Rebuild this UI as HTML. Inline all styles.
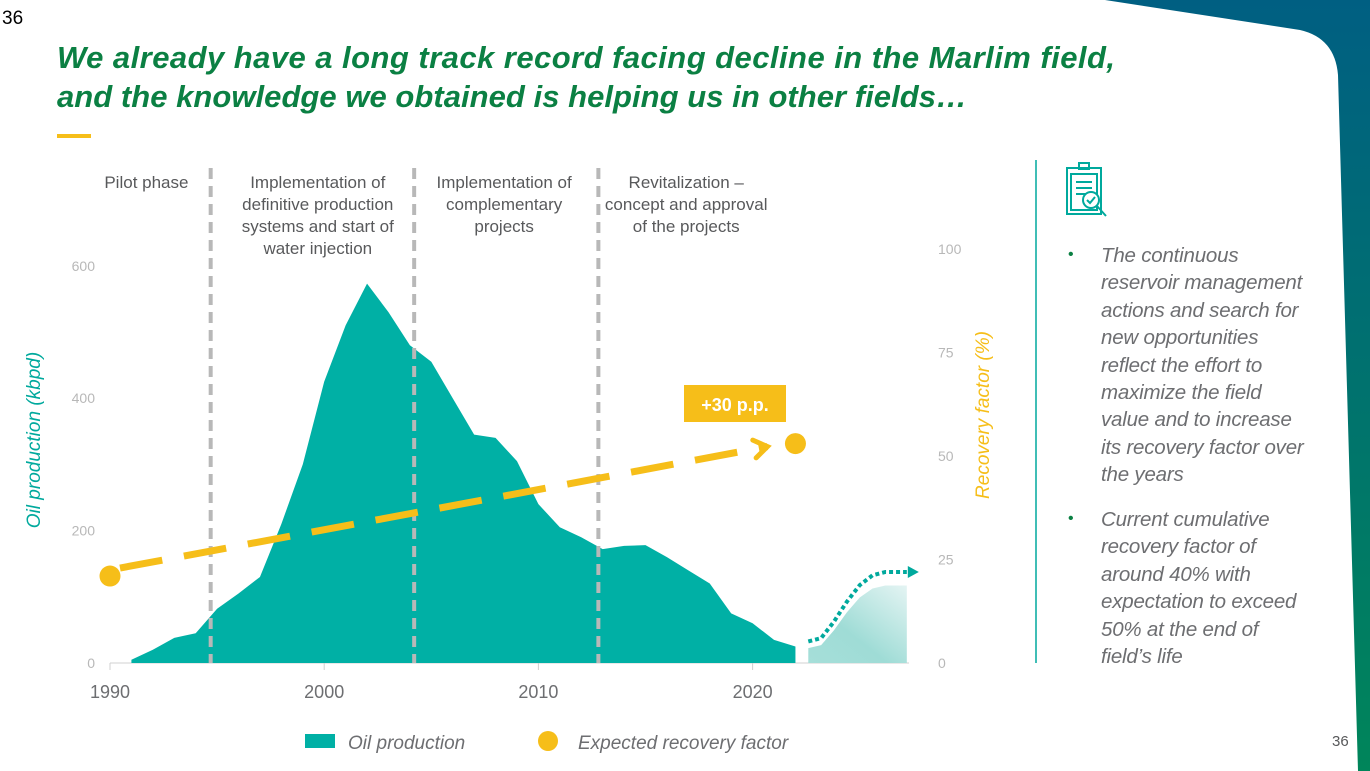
<!DOCTYPE html>
<html><head><meta charset="utf-8">
<style>
html,body{margin:0;padding:0;background:#fff;}
body{width:1370px;height:771px;position:relative;overflow:hidden;font-family:"Liberation Sans",sans-serif;}
svg{position:absolute;left:0;top:0;}
.bul{position:absolute;left:1101px;font-style:italic;color:#6d6e71;font-size:20.5px;line-height:27.4px;white-space:nowrap;letter-spacing:-0.2px;}
.dot{position:absolute;left:1068px;color:#0b8043;font-size:16px;}
</style></head><body>
<svg id="chart" width="1370" height="771">
<defs>
<linearGradient id="corner" x1="0" y1="0" x2="0" y2="1"><stop offset="0" stop-color="#005f82"/><stop offset="1" stop-color="#00855a"/></linearGradient>
<linearGradient id="fc" x1="1" y1="0" x2="0" y2="1"><stop offset="0" stop-color="#e4f4f3"/><stop offset="0.6" stop-color="#9fdcd6"/><stop offset="1" stop-color="#a6dfd9"/></linearGradient>
</defs>
<path d="M1105,0 L1370,0 L1370,771 L1358,771 L1338,75 Q1335,38 1300,30 Z" fill="url(#corner)"/>
<text x="2" y="24" font-size="19" fill="#000">36</text>
<text x="57" y="68" font-size="31" font-weight="bold" font-style="italic" fill="#0b8043" textLength="1058">We already have a long track record facing decline in the Marlim field,</text>
<text x="57" y="107" font-size="31" font-weight="bold" font-style="italic" fill="#0b8043" textLength="910">and the knowledge we obtained is helping us in other fields…</text>
<rect x="57" y="134" width="34" height="4" fill="#f6be19"/>
<g id="plot"></g>
<line x1="1036" y1="160" x2="1036" y2="663" stroke="#00a99d" stroke-width="1.5"/>
<g fill="none" stroke="#00a99d" stroke-width="2">
<rect x="1067" y="168" width="34" height="46"/><rect x="1071" y="174" width="26" height="36"/>
<rect x="1079" y="163" width="10" height="6"/>
<line x1="1076" y1="182" x2="1092" y2="182"/><line x1="1076" y1="188" x2="1092" y2="188"/><line x1="1076" y1="194" x2="1086" y2="194"/>
<circle cx="1091" cy="200" r="8" fill="#fff"/><path d="M1087,200 l3,3 l5,-6"/><line x1="1097" y1="206" x2="1106" y2="216"/>
</g>
<text x="1332" y="746" font-size="15" fill="#58595b">36</text>
<rect x="305" y="734" width="30" height="14" fill="#00b0a5"/>
<text x="348" y="749" font-size="19" font-style="italic" fill="#6d6e71">Oil production</text>
<circle cx="548" cy="741" r="10" fill="#f6be19"/>
<text x="578" y="749" font-size="19" font-style="italic" fill="#6d6e71">Expected recovery factor</text>
</svg>
<div class="dot" style="top:246px">•</div>
<div class="bul" style="top:242px">The continuous<br>reservoir management<br>actions and search for<br>new opportunities<br>reflect the effort to<br>maximize the field<br>value and to increase<br>its recovery factor over<br>the years</div>
<div class="dot" style="top:510px">•</div>
<div class="bul" style="top:506px">Current cumulative<br>recovery factor of<br>around 40% with<br>expectation to exceed<br>50% at the end of<br>field’s life</div>
<script>
const years=[1991,1992,1993,1994,1995,1996,1997,1998,1999,2000,2001,2002,2003,2004,2005,2006,2007,2008,2009,2010,2011,2012,2013,2014,2015,2016,2017,2018,2019,2020,2021,2022];
const production=[5,20,38,45,82,105,130,210,300,425,510,573,530,480,455,400,345,340,305,240,205,190,172,177,178,160,140,120,75,60,35,25];
const forecastYears=[2022.6,2023.2,2023.8,2024.4,2025,2025.6,2026.2,2027.2];
const forecast=[25,30,55,85,110,125,130,130];
const recoveryYears=[1990,2022];
const recovery=[21,53];
const leftTicks=[0,200,400,600];
const rightTicks=[0,25,50,75,100];
const xTicks=[1990,2000,2010,2020];
const phaseLines=[1994.7,2004.2,2012.8];
const phaseLabels=[["Pilot phase"],["Implementation of","definitive production","systems and start of","water injection"],["Implementation of","complementary","projects"],["Revitalization –","concept and approval","of the projects"]];
const phaseLabelX=[1991.7,1999.7,2008.4,2016.9];

const NS="http://www.w3.org/2000/svg";
const g=document.getElementById('plot');
const X=y=>110+(y-1990)*21.42;
const YL=v=>663-v*0.662;
const YR=v=>663-v*4.14;
function el(t,a){const e=document.createElementNS(NS,t);for(const k in a)e.setAttribute(k,a[k]);g.appendChild(e);return e;}
let e=el('line',{x1:X(1990),y1:663,x2:X(2027.3),y2:663,stroke:'#d0d0d0','stroke-width':1});


xTicks.forEach(t=>{
 let l=el('line',{x1:X(t),y1:663,x2:X(t),y2:670,stroke:'#d0d0d0'});
 
 
 let tx=el('text',{x:X(t),y:698,'font-size':18,fill:'#6d6e71','text-anchor':'middle'});tx.textContent=t;
 
 
});
leftTicks.forEach(t=>{
 let tx=el('text',{x:95,y:YL(t)+5,'font-size':14,fill:'#b8b8b8','text-anchor':'end'});tx.textContent=t;
 
 
});
rightTicks.forEach(t=>{
 let tx=el('text',{x:938,y:YR(t)+5,'font-size':14,fill:'#b8b8b8'});tx.textContent=t;
 
 
});
let yt=el('text',{x:0,y:0,'font-size':19,'font-style':'italic',fill:'#00a99d','text-anchor':'middle',transform:'translate(40,440) rotate(-90)'});yt.textContent='Oil production (kbpd)';


let yr=el('text',{x:0,y:0,'font-size':19,'font-style':'italic',fill:'#f6be19','text-anchor':'middle',transform:'translate(989,415) rotate(-90)'});yr.textContent='Recovery factor (%)';


let d='M'+X(years[0])+',663 '+years.map((y,i)=>'L'+X(y)+','+YL(production[i])).join(' ')+' L'+X(years[years.length-1])+',663 Z';
let a=el('path',{d:d,fill:'#00b0a5'});


let fd='M'+X(forecastYears[0])+',663 '+forecastYears.map((y,i)=>'L'+X(y)+','+YL(forecast[i]*0.9)).join(' ')+' L'+X(forecastYears[forecastYears.length-1])+',663 Z';
let fa=el('path',{d:fd,fill:'url(#fc)'});


let fl=el('path',{d:'M'+forecastYears.map((y,i)=>X(y)+','+(YL(forecast[i])-5)).join(' L'),fill:'none',stroke:'#00a99d','stroke-width':4,'stroke-dasharray':'4 3'});


const fx=X(forecastYears[forecastYears.length-1])+1, fy=YL(forecast[forecast.length-1])-5;
let fh=el('path',{d:`M${fx},${fy-6} L${fx+11},${fy} L${fx},${fy+6} Z`,fill:'#00a99d'});


phaseLines.forEach((p,i)=>{
 let l=el('line',{x1:X(p),y1:168,x2:X(p),y2:663,stroke:'#b8b8b8','stroke-width':4,'stroke-dasharray':'11 7'});
 
 
});
phaseLabels.forEach((lines,i)=>{
 let t=el('text',{x:X(phaseLabelX[i]),y:188,'font-size':17,fill:'#58595b','text-anchor':'middle'});
 
 
 lines.forEach((s,j)=>{const ts=document.createElementNS(NS,'tspan');ts.setAttribute('x',X(phaseLabelX[i]));ts.setAttribute('dy',j?22:0);ts.textContent=s;t.appendChild(ts);});
});
const x1=X(recoveryYears[0]),y1=YR(recovery[0]),x2=X(recoveryYears[1]),y2=YR(recovery[1]);
const sx=x1+10,sy=y1-8,ex=x2-28,ey=y2+3;
let rl=el('line',{x1:sx,y1:sy,x2:ex,y2:ey,stroke:'#f6be19','stroke-width':7,'stroke-dasharray':'43 22'});


const ang=Math.atan2(ey-sy,ex-sx);
const hp=(da)=>[ex-16*Math.cos(ang+da),ey-16*Math.sin(ang+da)];
const p1=hp(0.6),p2=hp(-0.6);
let rh=el('path',{d:`M${p1[0]},${p1[1]} L${ex},${ey} L${p2[0]},${p2[1]}`,fill:'none',stroke:'#f6be19','stroke-width':5,'stroke-linecap':'round'});


recovery.forEach((v,i)=>{
 let c=el('circle',{cx:X(recoveryYears[i]),cy:YR(v),r:10.5,fill:'#f6be19'});
 
 
});
let box=el('rect',{x:684,y:385,width:102,height:37,fill:'#f6be19'});


let bt=el('text',{x:735,y:411,'font-size':18,'font-weight':'bold',fill:'#fff','text-anchor':'middle'});bt.textContent='+30 p.p.';


</script>
</body></html>
